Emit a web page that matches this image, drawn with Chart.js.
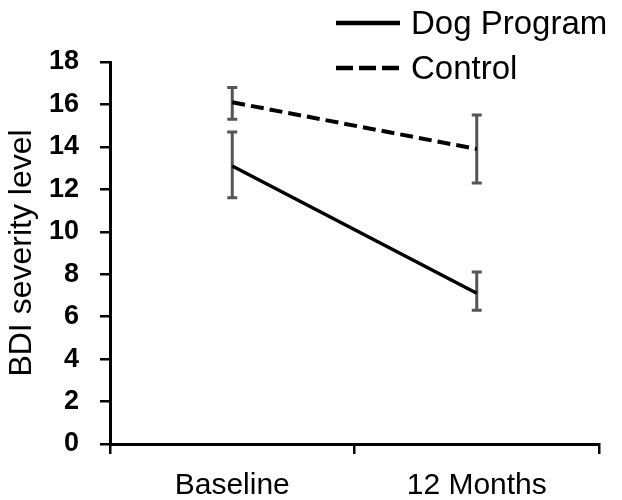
<!DOCTYPE html>
<html>
<head>
<meta charset="utf-8">
<script src="https://cdn.jsdelivr.net/npm/chart.js@4/dist/chart.umd.min.js"></script>
<style>
  html, body { margin: 0; padding: 0; background: #fff; }
  #wrap { width: 622px; height: 500px; }
</style>
</head>
<body>
<div id="wrap"><canvas id="myChart" width="622" height="500"></canvas></div>
<script>
var timePoints = ['Baseline', '12 Months'];
var seriesNames = ['Dog Program', 'Control'];

var dogMean = [13.1, 7.1];
var dogLow = [11.6, 6.3];
var dogHigh = [14.7, 8.1];

var controlMean = [16.1, 13.9];
var controlLow = [15.3, 12.3];
var controlHigh = [16.8, 15.5];

var yTicks = [0, 2, 4, 6, 8, 10, 12, 14, 16, 18];

var txtFont = '"Liberation Sans", Arial, sans-serif';

// error bars, drawn through the scales
var errorBars = {
  id: 'errorBars',
  beforeDatasetsDraw: function(chart) {
    var ctx = chart.ctx;
    var x = chart.scales.x, y = chart.scales.y;
    var sets = [[dogLow, dogHigh], [controlLow, controlHigh]];
    ctx.save();
    ctx.strokeStyle = '#555';
    ctx.lineWidth = 3;
    sets.forEach(function(s) {
      for (var i = 0; i < timePoints.length; i++) {
        var px = x.getPixelForValue(i);
        var lo = y.getPixelForValue(s[0][i]);
        var hi = y.getPixelForValue(s[1][i]);
        ctx.beginPath();
        ctx.moveTo(px, lo); ctx.lineTo(px, hi);
        ctx.moveTo(px - 5, lo); ctx.lineTo(px + 5, lo);
        ctx.moveTo(px - 5, hi); ctx.lineTo(px + 5, hi);
        ctx.stroke();
      }
    });
    ctx.restore();
  }
};

// legend in the top right corner
var cornerLegend = {
  id: 'cornerLegend',
  afterDraw: function(chart) {
    var ctx = chart.ctx;
    var rows = [{ y: 23, dash: [] }, { y: 68, dash: [17, 6] }];
    ctx.save();
    ctx.font = '33px ' + txtFont;
    ctx.fillStyle = '#000';
    ctx.textBaseline = 'middle';
    rows.forEach(function(r, i) {
      ctx.strokeStyle = '#000';
      ctx.lineWidth = 4.5;
      ctx.setLineDash(r.dash);
      ctx.beginPath();
      ctx.moveTo(336, r.y);
      ctx.lineTo(400, r.y);
      ctx.stroke();
      ctx.setLineDash([]);
      ctx.fillText(seriesNames[i], 411, r.y + 2);
    });
    ctx.restore();
  }
};

function makeChart() {
  var ctx = document.getElementById('myChart').getContext('2d');
  new Chart(ctx, {
    type: 'line',
    data: {
      labels: timePoints,
      datasets: [{
        label: seriesNames[0],
        data: dogMean,
        borderColor: '#000',
        borderWidth: 3.5,
        pointRadius: 0,
        tension: 0
      }, {
        label: seriesNames[1],
        data: controlMean,
        borderColor: '#000',
        borderWidth: 4,
        borderDash: [13, 6],
        pointRadius: 0,
        tension: 0
      }]
    },
    options: {
      responsive: false,
      animation: false,
      layout: { padding: { top: 62, right: 23, left: 0, bottom: 0 } },
      plugins: {
        legend: { display: false },
        tooltip: { enabled: false }
      },
      scales: {
        x: {
          offset: true,
          grid: { offset: true, drawOnChartArea: false, color: '#000', lineWidth: 2.5, tickLength: 10 },
          border: { color: '#000', width: 3 },
          ticks: { color: '#000', font: { family: txtFont, size: 30 }, padding: 14, maxRotation: 0 },
          afterFit: function(s) { s.height = 56; }
        },
        y: {
          min: 0,
          max: 18,
          afterBuildTicks: function(s) { s.ticks = yTicks.map(function(v) { return { value: v }; }); },
          grid: { drawOnChartArea: false, color: '#000', lineWidth: 2.5, tickLength: 10 },
          border: { color: '#000', width: 3 },
          ticks: { color: '#000', font: { family: txtFont, size: 27, weight: 'bold' }, padding: 21 },
          title: {
            display: true,
            text: 'BDI severity level',
            color: '#000',
            font: { family: txtFont, size: 32 },
            padding: { top: 3, bottom: 0 }
          },
          afterFit: function(s) { s.width = 110; }
        }
      }
    },
    plugins: [errorBars, cornerLegend]
  });
}

makeChart();
</script>
</body>
</html>
